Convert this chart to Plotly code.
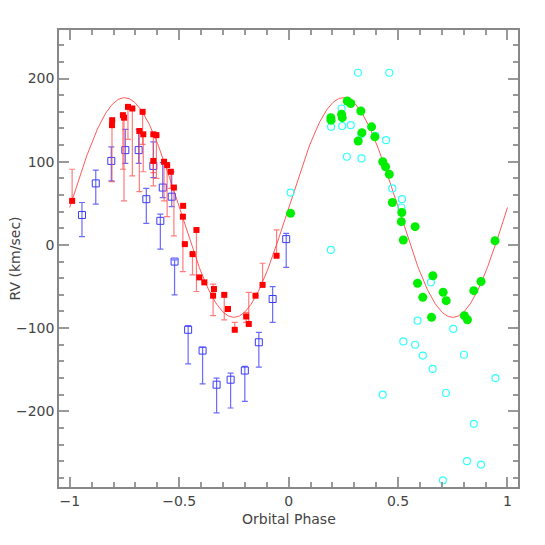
import numpy as np
import plotly.graph_objects as go

# red: filled squares with (mostly one-sided) error bars
red_phase = [-0.989, -0.806, -0.807, -0.757, -0.752, -0.734, -0.714, -0.667, -0.682,
             -0.664, -0.618, -0.604, -0.618, -0.569, -0.555, -0.538, -0.524, -0.482,
             -0.483, -0.474, -0.421, -0.439, -0.408, -0.385, -0.341, -0.345, -0.294,
             -0.277, -0.246, -0.194, -0.182, -0.151, -0.119, -0.055]
red_rv = [53, 150, 144, 156, 153, 166, 164, 160, 137,
          133, 133, 132, 101, 100, 96, 88, 69, 47,
          34, 1, 18, -11, -39, -45, -53, -61, -60,
          -77, -102, -86, -95, -61, -48, -13]
red_err_up = [38, 0, 0, 0, 0, 0, 0, 0, 0,
              0, 0, 0, 0, 0, 0, 0, 0, 0,
              0, 0, 0, 0, 0, 0, 0, 14, 0,
              0, 9, 5, 38, 0, 26, 31]
red_err_down = [0, 0, 68, 65, 100, 39, 81, 39, 73,
                45, 62, 52, 14, 47, 62, 20, 58, 0,
                66, 0, 74, 25, 0, 0, 0, 24, 30,
                0, 0, 7, 0, 0, 0, 0]

# blue: open squares with error bars
blue_phase = [-0.944, -0.881, -0.810, -0.746, -0.685, -0.650, -0.618, -0.586, -0.575,
              -0.534, -0.521, -0.459, -0.393, -0.329, -0.265, -0.200, -0.136, -0.073,
              -0.011]
blue_rv = [36, 74, 101, 114, 114, 55, 95, 29, 69,
           58, -20, -102, -127, -168, -162, -151, -117, -65,
           7]
blue_err_up = [15, 16, 17, 25, 25, 13, 29, 8, 30,
               30, 2, 5, 4, 8, 8, 5, 12, 15,
               7]
blue_err_down = [26, 25, 24, 16, 16, 29, 14, 34, 12,
                 12, 40, 41, 40, 34, 34, 37, 30, 28,
                 34]

# green: filled circles
green_phase = [0.009, 0.193, 0.194, 0.242, 0.245, 0.268, 0.284, 0.330, 0.335, 0.318,
               0.379, 0.394, 0.430, 0.443, 0.460, 0.474, 0.517, 0.515, 0.578, 0.524,
               0.943, 0.659, 0.589, 0.613, 0.706, 0.720, 0.653, 0.803, 0.817, 0.846,
               0.879]
green_rv = [38, 153, 150, 157, 153, 173, 170, 161, 135, 125,
            142, 130, 100, 94, 85, 51, 39, 28, 22, 6,
            5, -37, -46, -63, -57, -67, -87, -85, -90, -55,
            -44]

# cyan: open circles
cyan_phase = [0.317, 0.460, 0.242, 0.194, 0.245, 0.284, 0.332, 0.396, 0.445, 0.266,
              0.333, 0.474, 0.518, 0.515, 0.009, 0.193, 0.650, 0.589, 0.752, 0.524,
              0.578, 0.613, 0.801, 0.658, 0.945, 0.430, 0.719, 0.846, 0.815, 0.879,
              0.705]
cyan_rv = [207, 207, 164, 142, 143, 144, 133, 131, 126, 106,
           104, 68, 55, 45, 63, -6, -45, -91, -101, -116,
           -120, -133, -132, -149, -160, -180, -178, -215, -260, -264,
           -283]

# sine fit
gamma = 45
k_amp = 132
fit_phase = np.linspace(-1, 1, 400)
fit_rv = gamma + k_amp * np.sin(2 * np.pi * fit_phase)

text_font = dict(family="DejaVu Sans", size=14, color="#444444")

fig = go.Figure()
fig.add_trace(go.Scatter(x=fit_phase, y=fit_rv, mode="lines",
                         line=dict(color="rgba(255,60,60,0.85)", width=1),
                         hoverinfo="skip"))
fig.add_trace(go.Scatter(
    x=blue_phase, y=blue_rv, mode="markers",
    marker=dict(symbol="square-open", size=7, color="#3a3aff", line=dict(width=1)),
    error_y=dict(type="data", symmetric=False, array=blue_err_up, arrayminus=blue_err_down,
                 color="rgba(70,70,255,0.8)", thickness=1.2, width=3),
))
fig.add_trace(go.Scatter(
    x=red_phase, y=red_rv, mode="markers",
    marker=dict(symbol="square", size=6, color="#ff0000"),
    error_y=dict(type="data", symmetric=False, array=red_err_up, arrayminus=red_err_down,
                 color="rgba(255,70,70,0.7)", thickness=1.2, width=3),
))
fig.add_trace(go.Scatter(
    x=cyan_phase, y=cyan_rv, mode="markers",
    marker=dict(symbol="circle-open", size=7, color="#33ffff", line=dict(width=1.2)),
))
fig.add_trace(go.Scatter(
    x=green_phase, y=green_rv, mode="markers",
    marker=dict(symbol="circle", size=9, color="#00ee00"),
))

axis_style = dict(
    showline=True, linecolor="#888888", linewidth=1.5, mirror="allticks",
    ticks="inside", ticklen=10, tickwidth=1.5, tickcolor="#999999",
    showgrid=False, zeroline=False, automargin=False,
    tickfont=text_font,
)
fig.update_xaxes(
    range=[-1.049, 1.048], tickvals=[-1, -0.5, 0, 0.5, 1],
    minor=dict(dtick=0.1, ticks="inside", ticklen=5, tickcolor="#999999", showgrid=False),
    **axis_style,
)
fig.update_yaxes(
    range=[-291, 258.4], tickvals=[-200, -100, 0, 100, 200],
    minor=dict(dtick=20, ticks="inside", ticklen=5, tickcolor="#999999", showgrid=False),
    **axis_style,
)
fig.add_annotation(text="Orbital Phase", x=0.5, y=-0.0707, xref="paper", yref="paper",
                   showarrow=False, font=text_font, yanchor="middle")
fig.add_annotation(text="RV (km/sec)", x=-0.096, y=0.50, xref="paper", yref="paper",
                   showarrow=False, font=text_font, textangle=-90, xanchor="center")
# the page puts the figure 8px in from the corner, so the size and margins allow for that
fig.update_layout(
    width=537, height=537, showlegend=False,
    margin=dict(l=51, r=27, t=22, b=58),
    plot_bgcolor="white", paper_bgcolor="white",
)
fig.write_html("out.html")
